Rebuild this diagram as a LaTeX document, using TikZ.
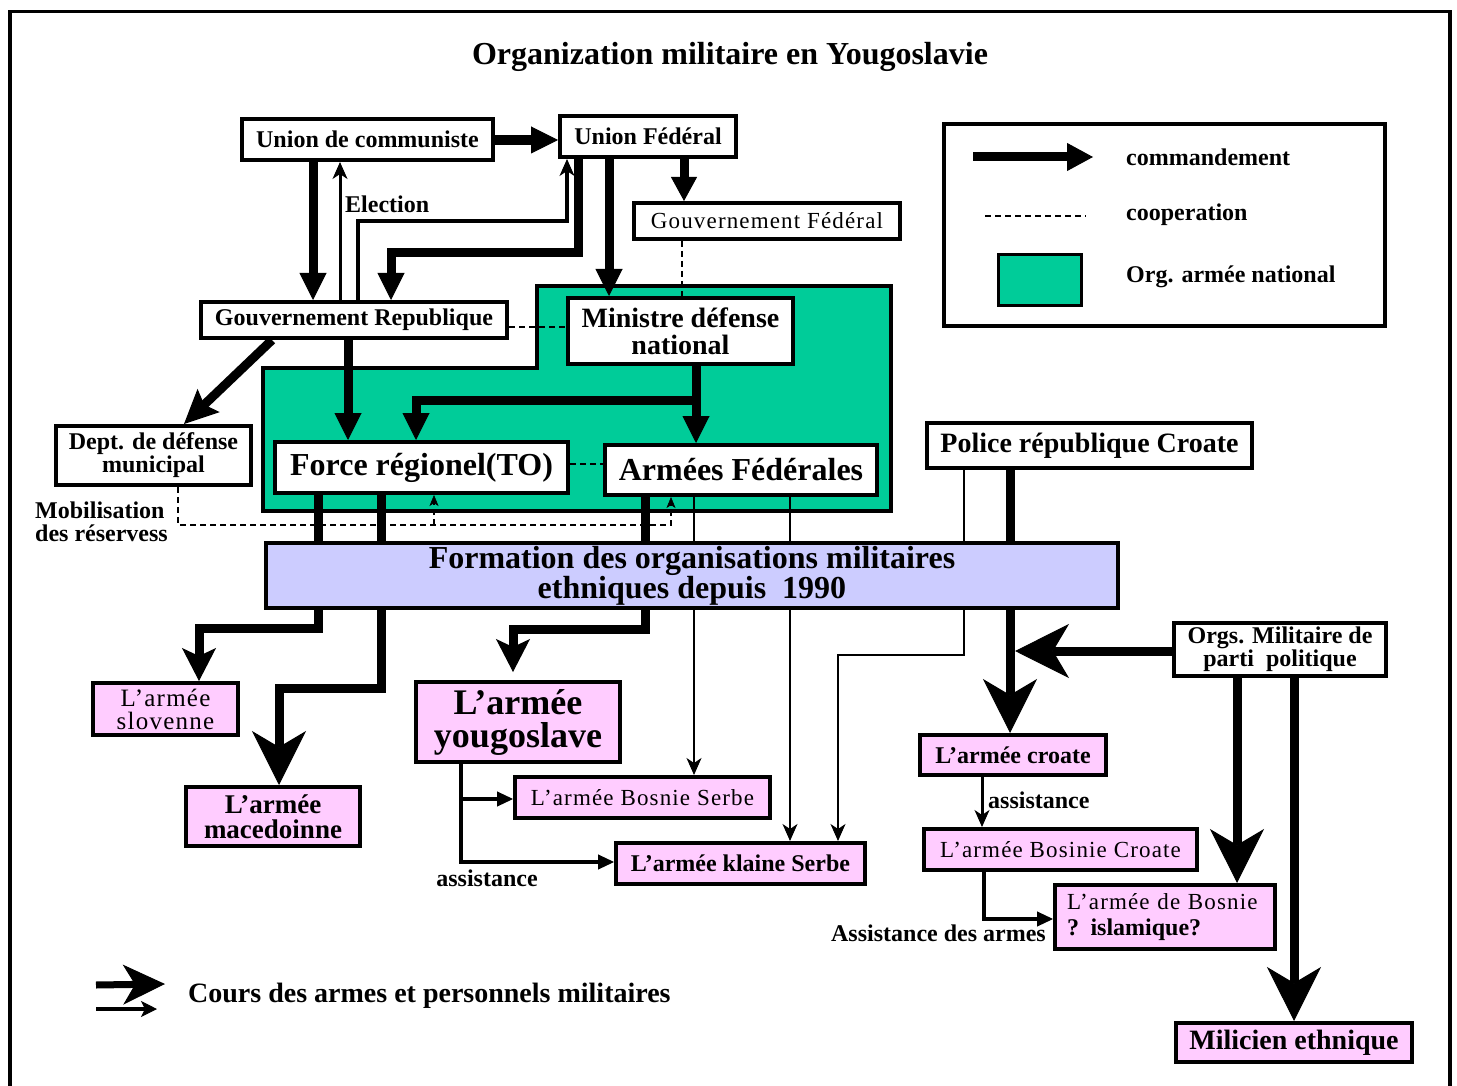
\documentclass[tikz,border=0pt]{standalone}
\usepackage{fontspec}
\setmainfont{Liberation Serif}
\newfontfamily\spc{Liberation Serif}[LetterSpace=5]
\usetikzlibrary{arrows.meta}
\pgfdeclarelayer{bg}
\pgfdeclarelayer{mid}
\pgfsetlayers{bg,mid,main}
\definecolor{greenc}{RGB}{0,204,153}
\definecolor{lavc}{RGB}{204,204,255}
\definecolor{pinkc}{RGB}{255,204,255}
\newcommand\drawbox[7]{%
  \pgfmathsetmacro\bxcx{(#2+#4)/2}%
  \pgfmathsetmacro\bxcy{(#3+#5)/2}%
  \pgfmathsetmacro\bxw{#4-#2-4}%
  \pgfmathsetmacro\bxh{#5-#3-4}%
  \node[#6, minimum width=\bxw pt, minimum height=\bxh pt] (#1) at (\bxcx,\bxcy) {#7};}
\tikzset{
  bf/.style 2 args={font=\bfseries\fontsize{#1}{#2}\selectfont},
  rg/.style 2 args={font=\spc\fontsize{#1}{#2}\selectfont},
  bx/.style={draw, line width=4pt, fill=white, inner sep=0pt, align=center},
  pk/.style={bx, fill=pinkc},
  lbl/.style={inner sep=0pt},
  thk/.style={line width=9pt},
  thn/.style={line width=2.5pt},
  dsh/.style={line width=1.3pt, dash pattern=on 6pt off 4pt},
  tA/.tip={Triangle[length=27pt,width=27pt,line width=1pt]},
  tB/.tip={Stealth[length=54pt,width=54pt,inset=16pt,line width=1pt]},
  tC/.tip={Stealth[length=33pt,width=34pt,inset=8pt,line width=1pt]},
  tS/.tip={Stealth[length=17pt,width=15pt,inset=5pt,line width=1pt]},
  tM/.tip={Triangle[length=16pt,width=15pt,line width=1pt]},
  tD/.tip={Stealth[length=11pt,width=9pt,inset=3pt,line width=0.5pt]}
}
\begin{document}
\begin{tikzpicture}[x=1pt,y=-1pt]
\useasboundingbox (0,0) rectangle (1457,1086);

% background and green national army region
\begin{pgfonlayer}{bg}
\fill[white] (0,0) rectangle (1457,1086);
\draw[line width=4pt,fill=greenc] (537,286) -- (891,286) -- (891,511) -- (263,511) -- (263,368) -- (537,368) -- cycle;
\end{pgfonlayer}

\draw[line width=3.5pt] (10,1095) -- (10,11.5) -- (1450,11.5) -- (1450,1095);
\node[bf={32}{32},lbl] (title) at (730,57) {Organization militaire en Yougoslavie};

% boxes
\drawbox{ucom}{240}{117}{495}{162}{bx,bf={24}{24}}{Union de communiste}
\drawbox{ufed}{558}{114}{738}{159}{bx,bf={24}{24}}{Union Fédéral}
\drawbox{gfed}{632}{201}{902}{241}{bx,rg={23}{23}}{Gouvernement Fédéral}
\drawbox{grep}{199}{300}{509}{340}{bx,bf={24}{24}}{Gouvernement Republique}
\drawbox{mdn}{566}{296}{795}{366}{bx,bf={28}{27}}{Ministre défense\\national}
\drawbox{fto}{273}{440}{570}{495}{bx,bf={32}{32}}{Force régionel(TO)}
\drawbox{afed}{603}{443}{879}{497}{bx,bf={32}{32}}{Armées Fédérales}
\drawbox{dept}{54}{424}{253}{487}{bx,bf={24}{23}}{Dept. de défense\\municipal}
\drawbox{police}{925}{421}{1254}{470}{bx,bf={28}{28}}{Police république Croate}
\drawbox{form}{264}{541}{1120}{610}{bx,fill=lavc,bf={32}{28}}{Formation des organisations militaires\\ethniques depuis~ 1990}
\drawbox{orgs}{1172}{621}{1388}{678}{bx,bf={24}{21}}{Orgs. Militaire de\\parti~ politique}
\drawbox{slov}{91}{681}{240}{737}{pk,rg={25}{23}}{L’armée\\slovenne}
\drawbox{mace}{184}{785}{362}{848}{pk,bf={27}{25}}{L’armée\\macedoinne}
\drawbox{youg}{414}{680}{622}{764}{pk,bf={36}{33}}{L’armée\\yougoslave}
\drawbox{bserb}{513}{775}{772}{820}{pk,rg={23}{23}}{L’armée Bosnie Serbe}
\drawbox{kserb}{614}{841}{867}{886}{pk,bf={24}{24}}{L’armée klaine Serbe}
\drawbox{croate}{918}{733}{1108}{777}{pk,bf={24}{24}}{L’armée croate}
\drawbox{bcro}{922}{827}{1199}{872}{pk,rg={23}{23}}{L’armée Bosinie Croate}
\drawbox{bosn}{1053}{883}{1277}{951}{pk,rg={23}{26},text width=196pt,align=left}{L’armée de Bosnie\\{\rmfamily\bfseries\fontsize{24}{26}\selectfont ? islamique?}}
\drawbox{mil}{1174}{1021}{1414}{1064}{pk,bf={28}{28}}{Milicien ethnique}

% lines passing behind the formation box
\begin{pgfonlayer}{mid}
\draw[thk,-{tC}] (fto.south -| 318,0) -- (318,628) -- (199,628) -- (slov.north -| 199,0);
\draw[thk,-{tB}] (fto.south -| 381,0) -- (381,688) -- (279,688) -- (mace.north -| 279,0);
\draw[thk,-{tC},shorten >=8pt] (afed.south -| 645,0) -- (645,629) -- (513,629) -- (youg.north -| 513,0);
\draw[thn,-{tS}] (afed.south -| 694,0) -- (bserb.north -| 694,0);
\draw[thn,-{tS}] (afed.south -| 790,0) -- (kserb.north -| 790,0);
\draw[thn,-{tS}] (police.south -| 964,0) -- (964,655) -- (838,655) -- (kserb.north -| 838,0);
\draw[thk,-{tB}] (police.south -| 1010,0) -- (croate.north -| 1010,0);
\end{pgfonlayer}

% top connectors
\draw[line width=10pt,-{tA}] (ucom.east |- 0,140) -- (ufed.west |- 0,140);
\draw[thk,-{tA}] (ucom.south -| 313,0) -- (grep.north -| 313,0);
\draw[line width=3pt,-{tS}] (grep.north -| 340,0) -- (ucom.south -| 340,0);
\draw[line width=3.5pt,-{tS}] (grep.north -| 358,0) -- (358,221) -- (567,221) -- (ufed.south -| 567,0);
\draw[thk,-{tA}] (ufed.south -| 578,0) -- (578,253) -- (391,253) -- (grep.north -| 391,0);
\draw[thk,-{tA}] (ufed.south -| 609,0) -- (mdn.north -| 609,0);
\draw[thk,-{Triangle[length=24pt,width=26pt,line width=1pt]}] (ufed.south -| 684,0) -- (gfed.north -| 684,0);
\draw[dsh] (gfed.south -| 682,0) -- (mdn.north -| 682,0);
\draw[dsh] (grep.east |- 0,327) -- (mdn.west |- 0,327);
\draw[thk,-{Stealth[length=34pt,width=32pt,inset=6pt,line width=1pt]}] (grep.south -| 272,0) -- (dept.north -| 184,0);
\draw[thk,-{tA}] (grep.south -| 348,0) -- (fto.north -| 348,0);
\draw[thk,-{tA}] (mdn.south -| 696,0) -- (afed.north -| 696,0);
\draw[thk,-{tA}] (mdn.south -| 696,0) -- (696,400) -- (416,400) -- (fto.north -| 416,0);
\draw[dsh] (fto.east |- 0,464) -- (afed.west |- 0,464);
\draw[dsh,-{tD}] (dept.south -| 178,0) -- (178,525) -- (671,525) -- (afed.south -| 671,0);
\coordinate (mobj) at (434,525);
\draw[dsh,-{tD}] (mobj) -- (fto.south -| 434,0);

% right side connectors
\coordinate (orgtip) at (1015,651);
\draw[thk,-{tB}] (orgs.west |- 0,651) -- (orgtip);
\draw[thk,-{tB}] (orgs.south -| 1237,0) -- (bosn.north -| 1237,0);
\draw[thk,-{tB}] (orgs.south -| 1294,0) -- (mil.north -| 1294,0);
\draw[line width=3pt,-{tS}] (croate.south -| 982,0) -- (bcro.north -| 982,0);
\draw[line width=4pt,-{tM}] (bcro.south -| 984,0) -- (984,919) -- (bosn.west |- 0,919);

% assistance from yougoslave army
\draw[line width=4.5pt,-{tM}] (youg.south -| 461,0) -- (461,862) -- (kserb.west |- 0,862);
\coordinate (ybr) at (461,799);
\draw[line width=4.5pt,-{tM}] (ybr) -- (bserb.west |- 0,799);

% labels
\node[bf={24}{24},lbl,anchor=west] (lel) at (345,204) {Election};
\node[bf={24}{23},lbl,anchor=west,align=left] (lmob) at (35,522) {Mobilisation\\des réservess};
\node[bf={24}{24},lbl,anchor=west] (las1) at (988,800) {assistance};
\node[bf={24}{24},lbl,anchor=east] (las2) at (1046,933) {Assistance des armes};
\node[bf={24}{24},lbl] (las3) at (487,878) {assistance};

% legend
\draw[line width=4pt] (944,124) rectangle (1385,326);
\coordinate (lga) at (973,157);
\coordinate (lgb) at (1093,157);
\draw[thk,-{Triangle[length=26pt,width=28pt,line width=1pt]}] (lga) -- (lgb);
\coordinate (lgc) at (985,216);
\coordinate (lgd) at (1086,216);
\draw[dsh] (lgc) -- (lgd);
\draw[line width=3pt,fill=greenc] (998,255) rectangle (1081,305);
\node[bf={24}{24},lbl,anchor=west] (lg1) at (1126,157) {commandement};
\node[bf={24}{24},lbl,anchor=west] (lg2) at (1126,215) {cooperation};
\node[bf={24}{24},lbl,anchor=west] (lg3) at (1126,277) {Org. armée national};

% bottom legend
\coordinate (cla) at (96,985);
\coordinate (clb) at (165,984);
\draw[line width=7pt,-{Stealth[length=42pt,width=40pt,inset=12pt,line width=1pt]}] (cla) -- (clb);
\coordinate (clc) at (96,1009);
\coordinate (cld) at (157,1009);
\draw[line width=4pt,-{Stealth[length=16pt,width=16pt,inset=4pt,line width=1pt]}] (clc) -- (cld);
\node[bf={28}{28},lbl,anchor=west] (lcours) at (188,996) {Cours des armes et personnels militaires};
\end{tikzpicture}
\end{document}
